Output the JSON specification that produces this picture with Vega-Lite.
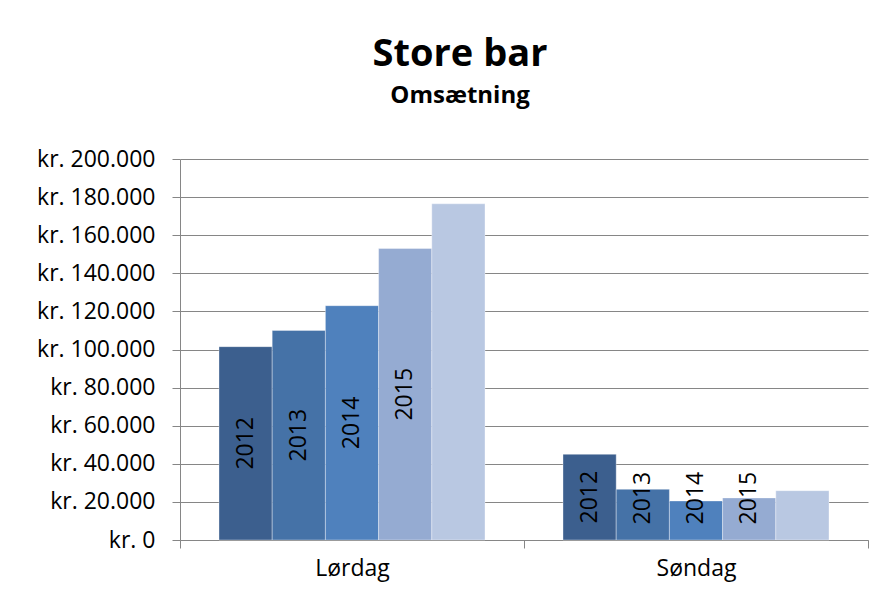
{
  "$schema": "https://vega.github.io/schema/vega-lite/v6.json",
  "width": 688,
  "height": 381,
  "autosize": "none",
  "padding": {"left": 180, "top": 159, "right": 15, "bottom": 63},
  "background": "white",
  "config": {
    "font": "Open Sans",
    "view": {"stroke": null},
    "axisY": {"labelOverlap": false},
    "locale": {
      "number": {"decimal": ",", "thousands": ".", "grouping": [3], "currency": ["kr. ", ""]}
    }
  },
  "title": {
    "text": "Store bar",
    "subtitle": "Omsætning",
    "anchor": "middle",
    "frame": "group",
    "dx": -64,
    "font": "Open Sans",
    "fontSize": 38,
    "fontWeight": "bold",
    "color": "black",
    "subtitleFont": "Open Sans",
    "subtitleFontSize": 24,
    "subtitleFontWeight": "bold",
    "subtitleColor": "black",
    "subtitlePadding": 10,
    "offset": 40
  },
  "data": {
    "values": [
      {"dag": "Lørdag", "år": "2012", "omsætning": 101500},
      {"dag": "Lørdag", "år": "2013", "omsætning": 110000},
      {"dag": "Lørdag", "år": "2014", "omsætning": 123000},
      {"dag": "Lørdag", "år": "2015", "omsætning": 153000},
      {"dag": "Lørdag", "år": "2016", "omsætning": 176500},
      {"dag": "Søndag", "år": "2012", "omsætning": 45000},
      {"dag": "Søndag", "år": "2013", "omsætning": 26600},
      {"dag": "Søndag", "år": "2014", "omsætning": 20500},
      {"dag": "Søndag", "år": "2015", "omsætning": 22100},
      {"dag": "Søndag", "år": "2016", "omsætning": 25900}
    ]
  },
  "encoding": {
    "x": {
      "field": "dag",
      "type": "nominal",
      "sort": ["Lørdag", "Søndag"],
      "scale": {"paddingInner": 0, "paddingOuter": 0},
      "axis": {
        "title": null,
        "labelAngle": 0,
        "labelFont": "Open Sans",
        "labelFontSize": 23,
        "labelColor": "black",
        "labelPadding": 9,
        "tickBand": "extent",
        "tickSize": 8,
        "tickColor": "#868686",
        "domainColor": "#868686",
        "grid": false
      }
    },
    "xOffset": {
      "field": "år",
      "type": "nominal",
      "scale": {"paddingInner": 0, "paddingOuter": 0.733}
    }
  },
  "layer": [
    {
      "mark": {"type": "bar", "stroke": "white", "strokeWidth": 0.6, "strokeOpacity": 0.6},
      "encoding": {
        "y": {
          "field": "omsætning",
          "type": "quantitative",
          "scale": {"domain": [0, 200000], "nice": false},
          "axis": {
            "title": null,
            "values": [0, 20000, 40000, 60000, 80000, 100000, 120000, 140000, 160000, 180000, 200000],
            "format": "$,.0f",
            "labelOverlap": false,
            "labelFont": "Open Sans",
            "labelFontSize": 23,
            "labelColor": "black",
            "labelPadding": 17,
            "tickSize": 8,
            "tickColor": "#868686",
            "domainColor": "#868686",
            "grid": true,
            "gridColor": "#868686",
            "gridOpacity": 1
          }
        },
        "color": {
          "field": "år",
          "type": "nominal",
          "scale": {
            "domain": ["2012", "2013", "2014", "2015", "2016"],
            "range": ["#3c5f8e", "#4572a7", "#4f81bd", "#95abd2", "#b9c8e2"]
          },
          "legend": null
        }
      }
    },
    {
      "transform": [
        {"filter": "datum['år'] != '2016'"},
        {"calculate": "max(datum['omsætning'] / 2, 22000)", "as": "labelY"}
      ],
      "mark": {
        "type": "text",
        "angle": 270,
        "align": "center",
        "baseline": "middle",
        "font": "Open Sans",
        "fontSize": 23,
        "color": "black"
      },
      "encoding": {
        "y": {
          "field": "labelY",
          "type": "quantitative",
          "scale": {"domain": [0, 200000], "nice": false},
          "axis": {
            "title": null,
            "values": [0, 20000, 40000, 60000, 80000, 100000, 120000, 140000, 160000, 180000, 200000],
            "format": "$,.0f",
            "labelOverlap": false,
            "labelFont": "Open Sans",
            "labelFontSize": 23,
            "labelColor": "black",
            "labelPadding": 17,
            "tickSize": 8,
            "tickColor": "#868686",
            "domainColor": "#868686",
            "grid": true,
            "gridColor": "#868686",
            "gridOpacity": 1
          }
        },
        "text": {"field": "år", "type": "nominal"}
      }
    }
  ]
}
